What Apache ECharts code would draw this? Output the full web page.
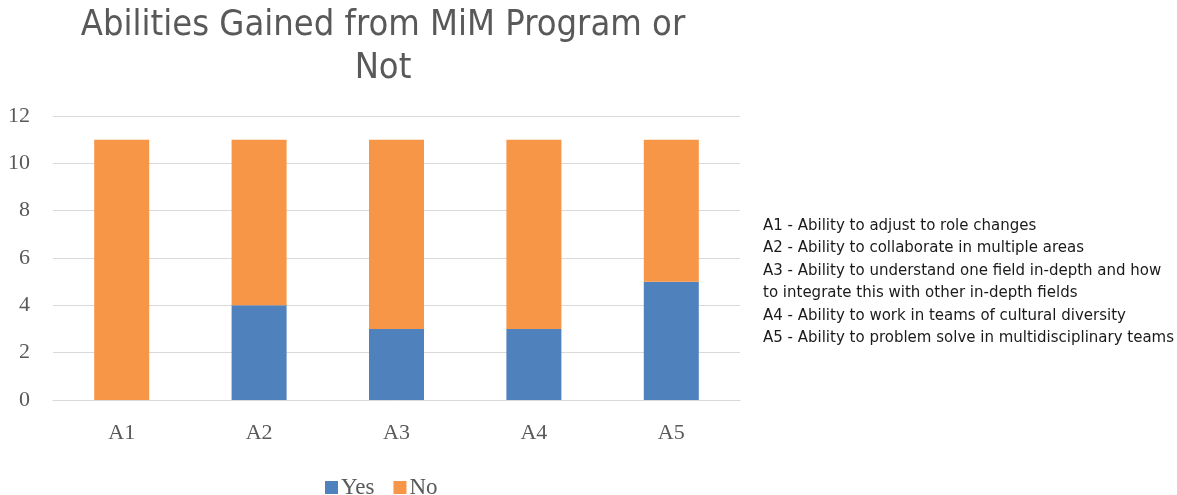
<!DOCTYPE html>
<html>
<head>
<meta charset="utf-8">
<style>
  html, body { margin: 0; padding: 0; background: #fff; }
  #chart { width: 1177px; height: 495px; }
</style>
<script src="https://cdn.jsdelivr.net/npm/echarts@6/dist/echarts.min.js"></script>
</head>
<body>
<div id="chart"></div>
<script>
// Survey answers per ability
const categories = ['A1', 'A2', 'A3', 'A4', 'A5'];
const yesValues = [0, 4, 3, 3, 5];
const noValues = [11, 7, 8, 8, 6];
const yTicks = { min: 0, max: 12, interval: 2 };
const abilityNotes = [
  'A1 - Ability to adjust to role changes',
  'A2 - Ability to collaborate in multiple areas',
  'A3 - Ability to understand one field in-depth and how',
  'to integrate this with other in-depth fields',
  'A4 - Ability to work in teams of cultural diversity',
  'A5 - Ability to problem solve in multidisciplinary teams'
];

const serif = '"Liberation Serif", "DejaVu Serif", serif';
const chart = echarts.init(document.getElementById('chart'));

chart.setOption({
  backgroundColor: '#ffffff',
  animation: false,
  title: {
    text: 'Abilities Gained from MiM Program or\nNot',
    left: 378,
    textAlign: 'center',
    top: -1,
    textStyle: {
      fontFamily: '"Liberation Sans Narrow", "DejaVu Sans Condensed", sans-serif',
      fontWeight: 'normal',
      fontSize: 36,
      lineHeight: 43,
      color: '#595959'
    }
  },
  legend: {
    data: ['Yes', 'No'],
    left: 320,
    top: 471,
    itemWidth: 13,
    itemHeight: 13,
    itemGap: 19,
    icon: 'rect',
    textStyle: { fontFamily: serif, fontSize: 23, color: '#595959', padding: [0, 0, 0, -2] }
  },
  grid: { left: 53, right: 437, top: 116, bottom: 95, containLabel: false },
  xAxis: {
    type: 'category',
    data: categories,
    axisLine: { lineStyle: { color: '#d9d9d9', width: 1 } },
    axisTick: { show: false },
    axisLabel: { fontFamily: serif, fontSize: 22, color: '#595959', margin: 22 }
  },
  yAxis: {
    type: 'value',
    min: yTicks.min,
    max: yTicks.max,
    interval: yTicks.interval,
    axisLine: { show: false },
    axisTick: { show: false },
    splitLine: { lineStyle: { color: '#d9d9d9', width: 1 } },
    axisLabel: { fontFamily: serif, fontSize: 22, color: '#595959', margin: 23 }
  },
  series: [
    {
      name: 'Yes',
      type: 'bar',
      stack: 'total',
      barWidth: 55,
      data: yesValues,
      itemStyle: { color: '#4F81BD' }
    },
    {
      name: 'No',
      type: 'bar',
      stack: 'total',
      barWidth: 55,
      data: noValues,
      itemStyle: { color: '#F79646' }
    }
  ],
  graphic: [
    {
      type: 'text',
      left: 763,
      top: 215,
      style: {
        text: abilityNotes.join('\n'),
        fontFamily: '"DejaVu Sans", "Open Sans", sans-serif',
        fontSize: 15,
        lineHeight: 22.4,
        fill: '#1a1a1a'
      }
    }
  ]
});
</script>
</body>
</html>
